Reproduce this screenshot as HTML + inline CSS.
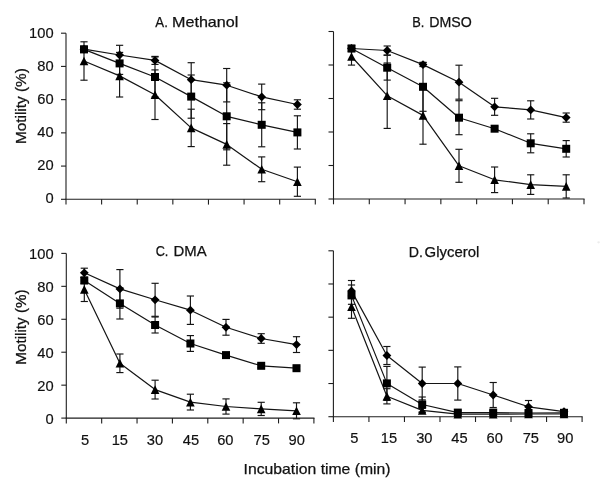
<!DOCTYPE html>
<html><head><meta charset="utf-8"><style>
html,body{margin:0;padding:0;background:#fff;}
body{width:600px;height:493px;overflow:hidden;}
svg{display:block;filter:blur(0.3px);font-family:"Liberation Sans", sans-serif;}
text.n{font-size:14.7px;fill:#111;stroke:#111;stroke-width:0.18px;}
text.t{font-size:14.5px;fill:#111;stroke:#111;stroke-width:0.25px;}
</style></head><body>
<svg width="600" height="493" viewBox="0 0 600 493">
<rect width="600" height="493" fill="#fff"/>
<g shape-rendering="auto">
<line x1="66" y1="33.2" x2="66" y2="204.6" stroke="#1e1e1e" stroke-width="1.1"/>
<line x1="65.45" y1="199.3" x2="315.85" y2="199.3" stroke="#1e1e1e" stroke-width="1.1"/>
<line x1="61" y1="33.2" x2="66" y2="33.2" stroke="#1e1e1e" stroke-width="1.1"/>
<line x1="61" y1="66.42" x2="66" y2="66.42" stroke="#1e1e1e" stroke-width="1.1"/>
<line x1="61" y1="99.64" x2="66" y2="99.64" stroke="#1e1e1e" stroke-width="1.1"/>
<line x1="61" y1="132.86" x2="66" y2="132.86" stroke="#1e1e1e" stroke-width="1.1"/>
<line x1="61" y1="166.08" x2="66" y2="166.08" stroke="#1e1e1e" stroke-width="1.1"/>
<line x1="61" y1="199.3" x2="66" y2="199.3" stroke="#1e1e1e" stroke-width="1.1"/>
<line x1="101.61" y1="199.3" x2="101.61" y2="204.6" stroke="#1e1e1e" stroke-width="1.1"/>
<line x1="137.23" y1="199.3" x2="137.23" y2="204.6" stroke="#1e1e1e" stroke-width="1.1"/>
<line x1="172.84" y1="199.3" x2="172.84" y2="204.6" stroke="#1e1e1e" stroke-width="1.1"/>
<line x1="208.46" y1="199.3" x2="208.46" y2="204.6" stroke="#1e1e1e" stroke-width="1.1"/>
<line x1="244.07" y1="199.3" x2="244.07" y2="204.6" stroke="#1e1e1e" stroke-width="1.1"/>
<line x1="279.69" y1="199.3" x2="279.69" y2="204.6" stroke="#1e1e1e" stroke-width="1.1"/>
<line x1="315.3" y1="199.3" x2="315.3" y2="204.6" stroke="#1e1e1e" stroke-width="1.1"/>
</g>
<text class="n" x="53.6" y="38.15" text-anchor="end">100</text>
<text class="n" x="53.6" y="71.05" text-anchor="end">80</text>
<text class="n" x="53.6" y="103.95" text-anchor="end">60</text>
<text class="n" x="53.6" y="136.85" text-anchor="end">40</text>
<text class="n" x="53.6" y="169.75" text-anchor="end">20</text>
<text class="n" x="53.6" y="202.65" text-anchor="end">0</text>
<polyline points="84,49.2 119.6,55 155,60.4 191.2,79.7 226.7,85.2 261.7,96.9 297.4,104.5" fill="none" stroke="#141414" stroke-width="1.2" stroke-linejoin="round"/>
<polyline points="84,49.4 119.6,63.4 155,77 191.2,96.6 226.7,116.3 261.7,124.8 297.4,132.4" fill="none" stroke="#141414" stroke-width="1.2" stroke-linejoin="round"/>
<polyline points="84,61 119.6,75.9 155,94.7 191.2,127.9 226.7,144.4 261.7,169.3 297.4,181.7" fill="none" stroke="#141414" stroke-width="1.2" stroke-linejoin="round"/>
<line x1="84" y1="46.2" x2="84" y2="52.2" stroke="#141414" stroke-width="1.15"/>
<line x1="80.4" y1="46.2" x2="87.6" y2="46.2" stroke="#141414" stroke-width="1.15"/>
<line x1="80.4" y1="52.2" x2="87.6" y2="52.2" stroke="#141414" stroke-width="1.15"/>
<line x1="119.6" y1="45.3" x2="119.6" y2="64.7" stroke="#141414" stroke-width="1.15"/>
<line x1="116" y1="45.3" x2="123.2" y2="45.3" stroke="#141414" stroke-width="1.15"/>
<line x1="116" y1="64.7" x2="123.2" y2="64.7" stroke="#141414" stroke-width="1.15"/>
<line x1="155" y1="56.4" x2="155" y2="64.4" stroke="#141414" stroke-width="1.15"/>
<line x1="151.4" y1="56.4" x2="158.6" y2="56.4" stroke="#141414" stroke-width="1.15"/>
<line x1="151.4" y1="64.4" x2="158.6" y2="64.4" stroke="#141414" stroke-width="1.15"/>
<line x1="191.2" y1="62.7" x2="191.2" y2="96.7" stroke="#141414" stroke-width="1.15"/>
<line x1="187.6" y1="62.7" x2="194.8" y2="62.7" stroke="#141414" stroke-width="1.15"/>
<line x1="187.6" y1="96.7" x2="194.8" y2="96.7" stroke="#141414" stroke-width="1.15"/>
<line x1="226.7" y1="68.5" x2="226.7" y2="101.9" stroke="#141414" stroke-width="1.15"/>
<line x1="223.1" y1="68.5" x2="230.3" y2="68.5" stroke="#141414" stroke-width="1.15"/>
<line x1="223.1" y1="101.9" x2="230.3" y2="101.9" stroke="#141414" stroke-width="1.15"/>
<line x1="261.7" y1="84.1" x2="261.7" y2="109.7" stroke="#141414" stroke-width="1.15"/>
<line x1="258.1" y1="84.1" x2="265.3" y2="84.1" stroke="#141414" stroke-width="1.15"/>
<line x1="258.1" y1="109.7" x2="265.3" y2="109.7" stroke="#141414" stroke-width="1.15"/>
<line x1="297.4" y1="99.8" x2="297.4" y2="109.2" stroke="#141414" stroke-width="1.15"/>
<line x1="293.8" y1="99.8" x2="301" y2="99.8" stroke="#141414" stroke-width="1.15"/>
<line x1="293.8" y1="109.2" x2="301" y2="109.2" stroke="#141414" stroke-width="1.15"/>
<line x1="84" y1="46.4" x2="84" y2="52.4" stroke="#141414" stroke-width="1.15"/>
<line x1="80.4" y1="46.4" x2="87.6" y2="46.4" stroke="#141414" stroke-width="1.15"/>
<line x1="80.4" y1="52.4" x2="87.6" y2="52.4" stroke="#141414" stroke-width="1.15"/>
<line x1="119.6" y1="52.4" x2="119.6" y2="74.4" stroke="#141414" stroke-width="1.15"/>
<line x1="116" y1="52.4" x2="123.2" y2="52.4" stroke="#141414" stroke-width="1.15"/>
<line x1="116" y1="74.4" x2="123.2" y2="74.4" stroke="#141414" stroke-width="1.15"/>
<line x1="155" y1="57" x2="155" y2="97" stroke="#141414" stroke-width="1.15"/>
<line x1="151.4" y1="57" x2="158.6" y2="57" stroke="#141414" stroke-width="1.15"/>
<line x1="151.4" y1="97" x2="158.6" y2="97" stroke="#141414" stroke-width="1.15"/>
<line x1="191.2" y1="75" x2="191.2" y2="118.2" stroke="#141414" stroke-width="1.15"/>
<line x1="187.6" y1="75" x2="194.8" y2="75" stroke="#141414" stroke-width="1.15"/>
<line x1="187.6" y1="118.2" x2="194.8" y2="118.2" stroke="#141414" stroke-width="1.15"/>
<line x1="226.7" y1="82.8" x2="226.7" y2="149.8" stroke="#141414" stroke-width="1.15"/>
<line x1="223.1" y1="82.8" x2="230.3" y2="82.8" stroke="#141414" stroke-width="1.15"/>
<line x1="223.1" y1="149.8" x2="230.3" y2="149.8" stroke="#141414" stroke-width="1.15"/>
<line x1="261.7" y1="102.8" x2="261.7" y2="146.8" stroke="#141414" stroke-width="1.15"/>
<line x1="258.1" y1="102.8" x2="265.3" y2="102.8" stroke="#141414" stroke-width="1.15"/>
<line x1="258.1" y1="146.8" x2="265.3" y2="146.8" stroke="#141414" stroke-width="1.15"/>
<line x1="297.4" y1="115.8" x2="297.4" y2="149" stroke="#141414" stroke-width="1.15"/>
<line x1="293.8" y1="115.8" x2="301" y2="115.8" stroke="#141414" stroke-width="1.15"/>
<line x1="293.8" y1="149" x2="301" y2="149" stroke="#141414" stroke-width="1.15"/>
<line x1="84" y1="41.8" x2="84" y2="80.2" stroke="#141414" stroke-width="1.15"/>
<line x1="80.4" y1="41.8" x2="87.6" y2="41.8" stroke="#141414" stroke-width="1.15"/>
<line x1="80.4" y1="80.2" x2="87.6" y2="80.2" stroke="#141414" stroke-width="1.15"/>
<line x1="119.6" y1="54.8" x2="119.6" y2="97" stroke="#141414" stroke-width="1.15"/>
<line x1="116" y1="54.8" x2="123.2" y2="54.8" stroke="#141414" stroke-width="1.15"/>
<line x1="116" y1="97" x2="123.2" y2="97" stroke="#141414" stroke-width="1.15"/>
<line x1="155" y1="69.9" x2="155" y2="119.5" stroke="#141414" stroke-width="1.15"/>
<line x1="151.4" y1="69.9" x2="158.6" y2="69.9" stroke="#141414" stroke-width="1.15"/>
<line x1="151.4" y1="119.5" x2="158.6" y2="119.5" stroke="#141414" stroke-width="1.15"/>
<line x1="191.2" y1="109.2" x2="191.2" y2="146.6" stroke="#141414" stroke-width="1.15"/>
<line x1="187.6" y1="109.2" x2="194.8" y2="109.2" stroke="#141414" stroke-width="1.15"/>
<line x1="187.6" y1="146.6" x2="194.8" y2="146.6" stroke="#141414" stroke-width="1.15"/>
<line x1="226.7" y1="123.6" x2="226.7" y2="165.2" stroke="#141414" stroke-width="1.15"/>
<line x1="223.1" y1="123.6" x2="230.3" y2="123.6" stroke="#141414" stroke-width="1.15"/>
<line x1="223.1" y1="165.2" x2="230.3" y2="165.2" stroke="#141414" stroke-width="1.15"/>
<line x1="261.7" y1="156.9" x2="261.7" y2="181.7" stroke="#141414" stroke-width="1.15"/>
<line x1="258.1" y1="156.9" x2="265.3" y2="156.9" stroke="#141414" stroke-width="1.15"/>
<line x1="258.1" y1="181.7" x2="265.3" y2="181.7" stroke="#141414" stroke-width="1.15"/>
<line x1="297.4" y1="167.1" x2="297.4" y2="196.3" stroke="#141414" stroke-width="1.15"/>
<line x1="293.8" y1="167.1" x2="301" y2="167.1" stroke="#141414" stroke-width="1.15"/>
<line x1="293.8" y1="196.3" x2="301" y2="196.3" stroke="#141414" stroke-width="1.15"/>
<path d="M84 44.8L88.4 49.2L84 53.6L79.6 49.2Z" fill="#000"/>
<path d="M119.6 50.6L124 55L119.6 59.4L115.2 55Z" fill="#000"/>
<path d="M155 56L159.4 60.4L155 64.8L150.6 60.4Z" fill="#000"/>
<path d="M191.2 75.3L195.6 79.7L191.2 84.1L186.8 79.7Z" fill="#000"/>
<path d="M226.7 80.8L231.1 85.2L226.7 89.6L222.3 85.2Z" fill="#000"/>
<path d="M261.7 92.5L266.1 96.9L261.7 101.3L257.3 96.9Z" fill="#000"/>
<path d="M297.4 100.1L301.8 104.5L297.4 108.9L293 104.5Z" fill="#000"/>
<rect x="80" y="45.4" width="8" height="8" fill="#000"/>
<rect x="115.6" y="59.4" width="8" height="8" fill="#000"/>
<rect x="151" y="73" width="8" height="8" fill="#000"/>
<rect x="187.2" y="92.6" width="8" height="8" fill="#000"/>
<rect x="222.7" y="112.3" width="8" height="8" fill="#000"/>
<rect x="257.7" y="120.8" width="8" height="8" fill="#000"/>
<rect x="293.4" y="128.4" width="8" height="8" fill="#000"/>
<path d="M84 56.7L88.3 65.3L79.7 65.3Z" fill="#000"/>
<path d="M119.6 71.6L123.9 80.2L115.3 80.2Z" fill="#000"/>
<path d="M155 90.4L159.3 99L150.7 99Z" fill="#000"/>
<path d="M191.2 123.6L195.5 132.2L186.9 132.2Z" fill="#000"/>
<path d="M226.7 140.1L231 148.7L222.4 148.7Z" fill="#000"/>
<path d="M261.7 165L266 173.6L257.4 173.6Z" fill="#000"/>
<path d="M297.4 177.4L301.7 186L293.1 186Z" fill="#000"/>
<g shape-rendering="auto">
<line x1="333.5" y1="31.5" x2="333.5" y2="204.3" stroke="#1e1e1e" stroke-width="1.1"/>
<line x1="332.95" y1="199" x2="584.55" y2="199" stroke="#1e1e1e" stroke-width="1.1"/>
<line x1="328.5" y1="31.5" x2="333.5" y2="31.5" stroke="#1e1e1e" stroke-width="1.1"/>
<line x1="328.5" y1="65" x2="333.5" y2="65" stroke="#1e1e1e" stroke-width="1.1"/>
<line x1="328.5" y1="98.5" x2="333.5" y2="98.5" stroke="#1e1e1e" stroke-width="1.1"/>
<line x1="328.5" y1="132" x2="333.5" y2="132" stroke="#1e1e1e" stroke-width="1.1"/>
<line x1="328.5" y1="165.5" x2="333.5" y2="165.5" stroke="#1e1e1e" stroke-width="1.1"/>
<line x1="328.5" y1="199" x2="333.5" y2="199" stroke="#1e1e1e" stroke-width="1.1"/>
<line x1="369.29" y1="199" x2="369.29" y2="204.3" stroke="#1e1e1e" stroke-width="1.1"/>
<line x1="405.07" y1="199" x2="405.07" y2="204.3" stroke="#1e1e1e" stroke-width="1.1"/>
<line x1="440.86" y1="199" x2="440.86" y2="204.3" stroke="#1e1e1e" stroke-width="1.1"/>
<line x1="476.64" y1="199" x2="476.64" y2="204.3" stroke="#1e1e1e" stroke-width="1.1"/>
<line x1="512.43" y1="199" x2="512.43" y2="204.3" stroke="#1e1e1e" stroke-width="1.1"/>
<line x1="548.21" y1="199" x2="548.21" y2="204.3" stroke="#1e1e1e" stroke-width="1.1"/>
<line x1="584" y1="199" x2="584" y2="204.3" stroke="#1e1e1e" stroke-width="1.1"/>
</g>
<polyline points="351.5,48.5 387.2,50.5 423,64.6 459,82.2 494.6,106.8 530.7,109.9 566.2,117.6" fill="none" stroke="#141414" stroke-width="1.2" stroke-linejoin="round"/>
<polyline points="351.5,48.5 387.2,67.7 423,86.8 459,117.7 494.6,128.7 530.7,143.3 566.2,148.8" fill="none" stroke="#141414" stroke-width="1.2" stroke-linejoin="round"/>
<polyline points="351.5,56.5 387.2,95.7 423,115.4 459,165.8 494.6,179.8 530.7,184.6 566.2,186.4" fill="none" stroke="#141414" stroke-width="1.2" stroke-linejoin="round"/>
<line x1="351.5" y1="45.5" x2="351.5" y2="51.5" stroke="#141414" stroke-width="1.15"/>
<line x1="347.9" y1="45.5" x2="355.1" y2="45.5" stroke="#141414" stroke-width="1.15"/>
<line x1="347.9" y1="51.5" x2="355.1" y2="51.5" stroke="#141414" stroke-width="1.15"/>
<line x1="387.2" y1="46" x2="387.2" y2="55" stroke="#141414" stroke-width="1.15"/>
<line x1="383.6" y1="46" x2="390.8" y2="46" stroke="#141414" stroke-width="1.15"/>
<line x1="383.6" y1="55" x2="390.8" y2="55" stroke="#141414" stroke-width="1.15"/>
<line x1="423" y1="62.6" x2="423" y2="66.6" stroke="#141414" stroke-width="1.15"/>
<line x1="419.4" y1="62.6" x2="426.6" y2="62.6" stroke="#141414" stroke-width="1.15"/>
<line x1="419.4" y1="66.6" x2="426.6" y2="66.6" stroke="#141414" stroke-width="1.15"/>
<line x1="459" y1="65.2" x2="459" y2="99.2" stroke="#141414" stroke-width="1.15"/>
<line x1="455.4" y1="65.2" x2="462.6" y2="65.2" stroke="#141414" stroke-width="1.15"/>
<line x1="455.4" y1="99.2" x2="462.6" y2="99.2" stroke="#141414" stroke-width="1.15"/>
<line x1="494.6" y1="98.3" x2="494.6" y2="115.3" stroke="#141414" stroke-width="1.15"/>
<line x1="491" y1="98.3" x2="498.2" y2="98.3" stroke="#141414" stroke-width="1.15"/>
<line x1="491" y1="115.3" x2="498.2" y2="115.3" stroke="#141414" stroke-width="1.15"/>
<line x1="530.7" y1="100.8" x2="530.7" y2="119" stroke="#141414" stroke-width="1.15"/>
<line x1="527.1" y1="100.8" x2="534.3" y2="100.8" stroke="#141414" stroke-width="1.15"/>
<line x1="527.1" y1="119" x2="534.3" y2="119" stroke="#141414" stroke-width="1.15"/>
<line x1="566.2" y1="113" x2="566.2" y2="122.2" stroke="#141414" stroke-width="1.15"/>
<line x1="562.6" y1="113" x2="569.8" y2="113" stroke="#141414" stroke-width="1.15"/>
<line x1="562.6" y1="122.2" x2="569.8" y2="122.2" stroke="#141414" stroke-width="1.15"/>
<line x1="351.5" y1="45.5" x2="351.5" y2="51.5" stroke="#141414" stroke-width="1.15"/>
<line x1="347.9" y1="45.5" x2="355.1" y2="45.5" stroke="#141414" stroke-width="1.15"/>
<line x1="347.9" y1="51.5" x2="355.1" y2="51.5" stroke="#141414" stroke-width="1.15"/>
<line x1="387.2" y1="55.3" x2="387.2" y2="80.1" stroke="#141414" stroke-width="1.15"/>
<line x1="383.6" y1="55.3" x2="390.8" y2="55.3" stroke="#141414" stroke-width="1.15"/>
<line x1="383.6" y1="80.1" x2="390.8" y2="80.1" stroke="#141414" stroke-width="1.15"/>
<line x1="423" y1="62.3" x2="423" y2="111.3" stroke="#141414" stroke-width="1.15"/>
<line x1="419.4" y1="62.3" x2="426.6" y2="62.3" stroke="#141414" stroke-width="1.15"/>
<line x1="419.4" y1="111.3" x2="426.6" y2="111.3" stroke="#141414" stroke-width="1.15"/>
<line x1="459" y1="100.7" x2="459" y2="134.7" stroke="#141414" stroke-width="1.15"/>
<line x1="455.4" y1="100.7" x2="462.6" y2="100.7" stroke="#141414" stroke-width="1.15"/>
<line x1="455.4" y1="134.7" x2="462.6" y2="134.7" stroke="#141414" stroke-width="1.15"/>
<line x1="494.6" y1="126.7" x2="494.6" y2="130.7" stroke="#141414" stroke-width="1.15"/>
<line x1="491" y1="126.7" x2="498.2" y2="126.7" stroke="#141414" stroke-width="1.15"/>
<line x1="491" y1="130.7" x2="498.2" y2="130.7" stroke="#141414" stroke-width="1.15"/>
<line x1="530.7" y1="133.8" x2="530.7" y2="152.8" stroke="#141414" stroke-width="1.15"/>
<line x1="527.1" y1="133.8" x2="534.3" y2="133.8" stroke="#141414" stroke-width="1.15"/>
<line x1="527.1" y1="152.8" x2="534.3" y2="152.8" stroke="#141414" stroke-width="1.15"/>
<line x1="566.2" y1="140.6" x2="566.2" y2="157" stroke="#141414" stroke-width="1.15"/>
<line x1="562.6" y1="140.6" x2="569.8" y2="140.6" stroke="#141414" stroke-width="1.15"/>
<line x1="562.6" y1="157" x2="569.8" y2="157" stroke="#141414" stroke-width="1.15"/>
<line x1="351.5" y1="47.9" x2="351.5" y2="65.1" stroke="#141414" stroke-width="1.15"/>
<line x1="347.9" y1="47.9" x2="355.1" y2="47.9" stroke="#141414" stroke-width="1.15"/>
<line x1="347.9" y1="65.1" x2="355.1" y2="65.1" stroke="#141414" stroke-width="1.15"/>
<line x1="387.2" y1="63" x2="387.2" y2="128.4" stroke="#141414" stroke-width="1.15"/>
<line x1="383.6" y1="63" x2="390.8" y2="63" stroke="#141414" stroke-width="1.15"/>
<line x1="383.6" y1="128.4" x2="390.8" y2="128.4" stroke="#141414" stroke-width="1.15"/>
<line x1="423" y1="86.6" x2="423" y2="144.2" stroke="#141414" stroke-width="1.15"/>
<line x1="419.4" y1="86.6" x2="426.6" y2="86.6" stroke="#141414" stroke-width="1.15"/>
<line x1="419.4" y1="144.2" x2="426.6" y2="144.2" stroke="#141414" stroke-width="1.15"/>
<line x1="459" y1="149.3" x2="459" y2="182.3" stroke="#141414" stroke-width="1.15"/>
<line x1="455.4" y1="149.3" x2="462.6" y2="149.3" stroke="#141414" stroke-width="1.15"/>
<line x1="455.4" y1="182.3" x2="462.6" y2="182.3" stroke="#141414" stroke-width="1.15"/>
<line x1="494.6" y1="167" x2="494.6" y2="192.6" stroke="#141414" stroke-width="1.15"/>
<line x1="491" y1="167" x2="498.2" y2="167" stroke="#141414" stroke-width="1.15"/>
<line x1="491" y1="192.6" x2="498.2" y2="192.6" stroke="#141414" stroke-width="1.15"/>
<line x1="530.7" y1="174.8" x2="530.7" y2="194.4" stroke="#141414" stroke-width="1.15"/>
<line x1="527.1" y1="174.8" x2="534.3" y2="174.8" stroke="#141414" stroke-width="1.15"/>
<line x1="527.1" y1="194.4" x2="534.3" y2="194.4" stroke="#141414" stroke-width="1.15"/>
<line x1="566.2" y1="174.8" x2="566.2" y2="198" stroke="#141414" stroke-width="1.15"/>
<line x1="562.6" y1="174.8" x2="569.8" y2="174.8" stroke="#141414" stroke-width="1.15"/>
<line x1="562.6" y1="198" x2="569.8" y2="198" stroke="#141414" stroke-width="1.15"/>
<path d="M351.5 44.1L355.9 48.5L351.5 52.9L347.1 48.5Z" fill="#000"/>
<path d="M387.2 46.1L391.6 50.5L387.2 54.9L382.8 50.5Z" fill="#000"/>
<path d="M423 60.2L427.4 64.6L423 69L418.6 64.6Z" fill="#000"/>
<path d="M459 77.8L463.4 82.2L459 86.6L454.6 82.2Z" fill="#000"/>
<path d="M494.6 102.4L499 106.8L494.6 111.2L490.2 106.8Z" fill="#000"/>
<path d="M530.7 105.5L535.1 109.9L530.7 114.3L526.3 109.9Z" fill="#000"/>
<path d="M566.2 113.2L570.6 117.6L566.2 122L561.8 117.6Z" fill="#000"/>
<rect x="347.5" y="44.5" width="8" height="8" fill="#000"/>
<rect x="383.2" y="63.7" width="8" height="8" fill="#000"/>
<rect x="419" y="82.8" width="8" height="8" fill="#000"/>
<rect x="455" y="113.7" width="8" height="8" fill="#000"/>
<rect x="490.6" y="124.7" width="8" height="8" fill="#000"/>
<rect x="526.7" y="139.3" width="8" height="8" fill="#000"/>
<rect x="562.2" y="144.8" width="8" height="8" fill="#000"/>
<path d="M351.5 52.2L355.8 60.8L347.2 60.8Z" fill="#000"/>
<path d="M387.2 91.4L391.5 100L382.9 100Z" fill="#000"/>
<path d="M423 111.1L427.3 119.7L418.7 119.7Z" fill="#000"/>
<path d="M459 161.5L463.3 170.1L454.7 170.1Z" fill="#000"/>
<path d="M494.6 175.5L498.9 184.1L490.3 184.1Z" fill="#000"/>
<path d="M530.7 180.3L535 188.9L526.4 188.9Z" fill="#000"/>
<path d="M566.2 182.1L570.5 190.7L561.9 190.7Z" fill="#000"/>
<g shape-rendering="auto">
<line x1="66.3" y1="253.4" x2="66.3" y2="423.4" stroke="#1e1e1e" stroke-width="1.1"/>
<line x1="65.75" y1="418.1" x2="314.45" y2="418.1" stroke="#1e1e1e" stroke-width="1.1"/>
<line x1="61.3" y1="253.4" x2="66.3" y2="253.4" stroke="#1e1e1e" stroke-width="1.1"/>
<line x1="61.3" y1="286.34" x2="66.3" y2="286.34" stroke="#1e1e1e" stroke-width="1.1"/>
<line x1="61.3" y1="319.28" x2="66.3" y2="319.28" stroke="#1e1e1e" stroke-width="1.1"/>
<line x1="61.3" y1="352.22" x2="66.3" y2="352.22" stroke="#1e1e1e" stroke-width="1.1"/>
<line x1="61.3" y1="385.16" x2="66.3" y2="385.16" stroke="#1e1e1e" stroke-width="1.1"/>
<line x1="61.3" y1="418.1" x2="66.3" y2="418.1" stroke="#1e1e1e" stroke-width="1.1"/>
<line x1="101.67" y1="418.1" x2="101.67" y2="423.4" stroke="#1e1e1e" stroke-width="1.1"/>
<line x1="137.04" y1="418.1" x2="137.04" y2="423.4" stroke="#1e1e1e" stroke-width="1.1"/>
<line x1="172.41" y1="418.1" x2="172.41" y2="423.4" stroke="#1e1e1e" stroke-width="1.1"/>
<line x1="207.79" y1="418.1" x2="207.79" y2="423.4" stroke="#1e1e1e" stroke-width="1.1"/>
<line x1="243.16" y1="418.1" x2="243.16" y2="423.4" stroke="#1e1e1e" stroke-width="1.1"/>
<line x1="278.53" y1="418.1" x2="278.53" y2="423.4" stroke="#1e1e1e" stroke-width="1.1"/>
<line x1="313.9" y1="418.1" x2="313.9" y2="423.4" stroke="#1e1e1e" stroke-width="1.1"/>
</g>
<text class="n" x="53.6" y="258.85" text-anchor="end">100</text>
<text class="n" x="53.6" y="291.81" text-anchor="end">80</text>
<text class="n" x="53.6" y="324.77" text-anchor="end">60</text>
<text class="n" x="53.6" y="357.73" text-anchor="end">40</text>
<text class="n" x="53.6" y="390.69" text-anchor="end">20</text>
<text class="n" x="53.6" y="423.65" text-anchor="end">0</text>
<text class="n" x="85.1" y="444.6" text-anchor="middle">5</text>
<text class="n" x="119.8" y="444.6" text-anchor="middle">15</text>
<text class="n" x="155" y="444.6" text-anchor="middle">30</text>
<text class="n" x="191" y="444.6" text-anchor="middle">45</text>
<text class="n" x="225.3" y="444.6" text-anchor="middle">60</text>
<text class="n" x="261.7" y="444.6" text-anchor="middle">75</text>
<text class="n" x="296.7" y="444.6" text-anchor="middle">90</text>
<polyline points="84.3,272.8 119.9,288.9 155.1,299.8 190.4,310.2 226,327.3 261.2,338.5 296.5,344.6" fill="none" stroke="#141414" stroke-width="1.2" stroke-linejoin="round"/>
<polyline points="84.3,280.5 119.9,303.4 155.1,325 190.4,343.5 226,355.1 261.2,365.8 296.5,368.2" fill="none" stroke="#141414" stroke-width="1.2" stroke-linejoin="round"/>
<polyline points="84.3,289.4 119.9,363.3 155.1,389.6 190.4,402.1 226,406.5 261.2,408.9 296.5,410.8" fill="none" stroke="#141414" stroke-width="1.2" stroke-linejoin="round"/>
<line x1="84.3" y1="268.2" x2="84.3" y2="277.4" stroke="#141414" stroke-width="1.15"/>
<line x1="80.7" y1="268.2" x2="87.9" y2="268.2" stroke="#141414" stroke-width="1.15"/>
<line x1="80.7" y1="277.4" x2="87.9" y2="277.4" stroke="#141414" stroke-width="1.15"/>
<line x1="119.9" y1="269.6" x2="119.9" y2="308.2" stroke="#141414" stroke-width="1.15"/>
<line x1="116.3" y1="269.6" x2="123.5" y2="269.6" stroke="#141414" stroke-width="1.15"/>
<line x1="116.3" y1="308.2" x2="123.5" y2="308.2" stroke="#141414" stroke-width="1.15"/>
<line x1="155.1" y1="283.3" x2="155.1" y2="316.3" stroke="#141414" stroke-width="1.15"/>
<line x1="151.5" y1="283.3" x2="158.7" y2="283.3" stroke="#141414" stroke-width="1.15"/>
<line x1="151.5" y1="316.3" x2="158.7" y2="316.3" stroke="#141414" stroke-width="1.15"/>
<line x1="190.4" y1="296" x2="190.4" y2="324.4" stroke="#141414" stroke-width="1.15"/>
<line x1="186.8" y1="296" x2="194" y2="296" stroke="#141414" stroke-width="1.15"/>
<line x1="186.8" y1="324.4" x2="194" y2="324.4" stroke="#141414" stroke-width="1.15"/>
<line x1="226" y1="319.4" x2="226" y2="335.2" stroke="#141414" stroke-width="1.15"/>
<line x1="222.4" y1="319.4" x2="229.6" y2="319.4" stroke="#141414" stroke-width="1.15"/>
<line x1="222.4" y1="335.2" x2="229.6" y2="335.2" stroke="#141414" stroke-width="1.15"/>
<line x1="261.2" y1="333.7" x2="261.2" y2="343.3" stroke="#141414" stroke-width="1.15"/>
<line x1="257.6" y1="333.7" x2="264.8" y2="333.7" stroke="#141414" stroke-width="1.15"/>
<line x1="257.6" y1="343.3" x2="264.8" y2="343.3" stroke="#141414" stroke-width="1.15"/>
<line x1="296.5" y1="336.7" x2="296.5" y2="352.5" stroke="#141414" stroke-width="1.15"/>
<line x1="292.9" y1="336.7" x2="300.1" y2="336.7" stroke="#141414" stroke-width="1.15"/>
<line x1="292.9" y1="352.5" x2="300.1" y2="352.5" stroke="#141414" stroke-width="1.15"/>
<line x1="84.3" y1="277.5" x2="84.3" y2="283.5" stroke="#141414" stroke-width="1.15"/>
<line x1="80.7" y1="277.5" x2="87.9" y2="277.5" stroke="#141414" stroke-width="1.15"/>
<line x1="80.7" y1="283.5" x2="87.9" y2="283.5" stroke="#141414" stroke-width="1.15"/>
<line x1="119.9" y1="287.8" x2="119.9" y2="319" stroke="#141414" stroke-width="1.15"/>
<line x1="116.3" y1="287.8" x2="123.5" y2="287.8" stroke="#141414" stroke-width="1.15"/>
<line x1="116.3" y1="319" x2="123.5" y2="319" stroke="#141414" stroke-width="1.15"/>
<line x1="155.1" y1="317" x2="155.1" y2="333" stroke="#141414" stroke-width="1.15"/>
<line x1="151.5" y1="317" x2="158.7" y2="317" stroke="#141414" stroke-width="1.15"/>
<line x1="151.5" y1="333" x2="158.7" y2="333" stroke="#141414" stroke-width="1.15"/>
<line x1="190.4" y1="335.6" x2="190.4" y2="351.4" stroke="#141414" stroke-width="1.15"/>
<line x1="186.8" y1="335.6" x2="194" y2="335.6" stroke="#141414" stroke-width="1.15"/>
<line x1="186.8" y1="351.4" x2="194" y2="351.4" stroke="#141414" stroke-width="1.15"/>
<line x1="226" y1="353.1" x2="226" y2="357.1" stroke="#141414" stroke-width="1.15"/>
<line x1="222.4" y1="353.1" x2="229.6" y2="353.1" stroke="#141414" stroke-width="1.15"/>
<line x1="222.4" y1="357.1" x2="229.6" y2="357.1" stroke="#141414" stroke-width="1.15"/>
<line x1="261.2" y1="363.8" x2="261.2" y2="367.8" stroke="#141414" stroke-width="1.15"/>
<line x1="257.6" y1="363.8" x2="264.8" y2="363.8" stroke="#141414" stroke-width="1.15"/>
<line x1="257.6" y1="367.8" x2="264.8" y2="367.8" stroke="#141414" stroke-width="1.15"/>
<line x1="296.5" y1="366.2" x2="296.5" y2="370.2" stroke="#141414" stroke-width="1.15"/>
<line x1="292.9" y1="366.2" x2="300.1" y2="366.2" stroke="#141414" stroke-width="1.15"/>
<line x1="292.9" y1="370.2" x2="300.1" y2="370.2" stroke="#141414" stroke-width="1.15"/>
<line x1="84.3" y1="277.3" x2="84.3" y2="301.5" stroke="#141414" stroke-width="1.15"/>
<line x1="80.7" y1="277.3" x2="87.9" y2="277.3" stroke="#141414" stroke-width="1.15"/>
<line x1="80.7" y1="301.5" x2="87.9" y2="301.5" stroke="#141414" stroke-width="1.15"/>
<line x1="119.9" y1="354" x2="119.9" y2="372.6" stroke="#141414" stroke-width="1.15"/>
<line x1="116.3" y1="354" x2="123.5" y2="354" stroke="#141414" stroke-width="1.15"/>
<line x1="116.3" y1="372.6" x2="123.5" y2="372.6" stroke="#141414" stroke-width="1.15"/>
<line x1="155.1" y1="380.2" x2="155.1" y2="399" stroke="#141414" stroke-width="1.15"/>
<line x1="151.5" y1="380.2" x2="158.7" y2="380.2" stroke="#141414" stroke-width="1.15"/>
<line x1="151.5" y1="399" x2="158.7" y2="399" stroke="#141414" stroke-width="1.15"/>
<line x1="190.4" y1="394.2" x2="190.4" y2="410" stroke="#141414" stroke-width="1.15"/>
<line x1="186.8" y1="394.2" x2="194" y2="394.2" stroke="#141414" stroke-width="1.15"/>
<line x1="186.8" y1="410" x2="194" y2="410" stroke="#141414" stroke-width="1.15"/>
<line x1="226" y1="398.9" x2="226" y2="414.1" stroke="#141414" stroke-width="1.15"/>
<line x1="222.4" y1="398.9" x2="229.6" y2="398.9" stroke="#141414" stroke-width="1.15"/>
<line x1="222.4" y1="414.1" x2="229.6" y2="414.1" stroke="#141414" stroke-width="1.15"/>
<line x1="261.2" y1="402.3" x2="261.2" y2="415.5" stroke="#141414" stroke-width="1.15"/>
<line x1="257.6" y1="402.3" x2="264.8" y2="402.3" stroke="#141414" stroke-width="1.15"/>
<line x1="257.6" y1="415.5" x2="264.8" y2="415.5" stroke="#141414" stroke-width="1.15"/>
<line x1="296.5" y1="402.8" x2="296.5" y2="418.8" stroke="#141414" stroke-width="1.15"/>
<line x1="292.9" y1="402.8" x2="300.1" y2="402.8" stroke="#141414" stroke-width="1.15"/>
<line x1="292.9" y1="418.8" x2="300.1" y2="418.8" stroke="#141414" stroke-width="1.15"/>
<path d="M84.3 268.4L88.7 272.8L84.3 277.2L79.9 272.8Z" fill="#000"/>
<path d="M119.9 284.5L124.3 288.9L119.9 293.3L115.5 288.9Z" fill="#000"/>
<path d="M155.1 295.4L159.5 299.8L155.1 304.2L150.7 299.8Z" fill="#000"/>
<path d="M190.4 305.8L194.8 310.2L190.4 314.6L186 310.2Z" fill="#000"/>
<path d="M226 322.9L230.4 327.3L226 331.7L221.6 327.3Z" fill="#000"/>
<path d="M261.2 334.1L265.6 338.5L261.2 342.9L256.8 338.5Z" fill="#000"/>
<path d="M296.5 340.2L300.9 344.6L296.5 349L292.1 344.6Z" fill="#000"/>
<rect x="80.3" y="276.5" width="8" height="8" fill="#000"/>
<rect x="115.9" y="299.4" width="8" height="8" fill="#000"/>
<rect x="151.1" y="321" width="8" height="8" fill="#000"/>
<rect x="186.4" y="339.5" width="8" height="8" fill="#000"/>
<rect x="222" y="351.1" width="8" height="8" fill="#000"/>
<rect x="257.2" y="361.8" width="8" height="8" fill="#000"/>
<rect x="292.5" y="364.2" width="8" height="8" fill="#000"/>
<path d="M84.3 285.1L88.6 293.7L80 293.7Z" fill="#000"/>
<path d="M119.9 359L124.2 367.6L115.6 367.6Z" fill="#000"/>
<path d="M155.1 385.3L159.4 393.9L150.8 393.9Z" fill="#000"/>
<path d="M190.4 397.8L194.7 406.4L186.1 406.4Z" fill="#000"/>
<path d="M226 402.2L230.3 410.8L221.7 410.8Z" fill="#000"/>
<path d="M261.2 404.6L265.5 413.2L256.9 413.2Z" fill="#000"/>
<path d="M296.5 406.5L300.8 415.1L292.2 415.1Z" fill="#000"/>
<g shape-rendering="auto">
<line x1="333.4" y1="250.8" x2="333.4" y2="422" stroke="#1e1e1e" stroke-width="1.1"/>
<line x1="332.85" y1="416.7" x2="582.65" y2="416.7" stroke="#1e1e1e" stroke-width="1.1"/>
<line x1="328.4" y1="250.8" x2="333.4" y2="250.8" stroke="#1e1e1e" stroke-width="1.1"/>
<line x1="328.4" y1="283.98" x2="333.4" y2="283.98" stroke="#1e1e1e" stroke-width="1.1"/>
<line x1="328.4" y1="317.16" x2="333.4" y2="317.16" stroke="#1e1e1e" stroke-width="1.1"/>
<line x1="328.4" y1="350.34" x2="333.4" y2="350.34" stroke="#1e1e1e" stroke-width="1.1"/>
<line x1="328.4" y1="383.52" x2="333.4" y2="383.52" stroke="#1e1e1e" stroke-width="1.1"/>
<line x1="328.4" y1="416.7" x2="333.4" y2="416.7" stroke="#1e1e1e" stroke-width="1.1"/>
<line x1="368.93" y1="416.7" x2="368.93" y2="422" stroke="#1e1e1e" stroke-width="1.1"/>
<line x1="404.46" y1="416.7" x2="404.46" y2="422" stroke="#1e1e1e" stroke-width="1.1"/>
<line x1="439.99" y1="416.7" x2="439.99" y2="422" stroke="#1e1e1e" stroke-width="1.1"/>
<line x1="475.51" y1="416.7" x2="475.51" y2="422" stroke="#1e1e1e" stroke-width="1.1"/>
<line x1="511.04" y1="416.7" x2="511.04" y2="422" stroke="#1e1e1e" stroke-width="1.1"/>
<line x1="546.57" y1="416.7" x2="546.57" y2="422" stroke="#1e1e1e" stroke-width="1.1"/>
<line x1="582.1" y1="416.7" x2="582.1" y2="422" stroke="#1e1e1e" stroke-width="1.1"/>
</g>
<text class="n" x="354.4" y="443" text-anchor="middle">5</text>
<text class="n" x="389" y="443" text-anchor="middle">15</text>
<text class="n" x="424.3" y="443" text-anchor="middle">30</text>
<text class="n" x="459.5" y="443" text-anchor="middle">45</text>
<text class="n" x="494.7" y="443" text-anchor="middle">60</text>
<text class="n" x="530.8" y="443" text-anchor="middle">75</text>
<text class="n" x="565.2" y="443" text-anchor="middle">90</text>
<polyline points="351.5,290.9 386.9,355.5 422.2,383.5 457.8,383.5 493.2,395 528.5,406.8 564,411.6" fill="none" stroke="#141414" stroke-width="1.2" stroke-linejoin="round"/>
<polyline points="351.5,295.4 386.9,383.4 422.2,404.5 457.8,412.6 493.2,412.6 528.5,413 564,412.8" fill="none" stroke="#141414" stroke-width="1.2" stroke-linejoin="round"/>
<polyline points="351.5,306.8 386.9,396.3 422.2,410.4 457.8,414.2 493.2,414.2 528.5,414 564,414" fill="none" stroke="#141414" stroke-width="1.2" stroke-linejoin="round"/>
<line x1="351.5" y1="285" x2="351.5" y2="296.8" stroke="#141414" stroke-width="1.15"/>
<line x1="347.9" y1="285" x2="355.1" y2="285" stroke="#141414" stroke-width="1.15"/>
<line x1="347.9" y1="296.8" x2="355.1" y2="296.8" stroke="#141414" stroke-width="1.15"/>
<line x1="386.9" y1="346.5" x2="386.9" y2="364.5" stroke="#141414" stroke-width="1.15"/>
<line x1="383.3" y1="346.5" x2="390.5" y2="346.5" stroke="#141414" stroke-width="1.15"/>
<line x1="383.3" y1="364.5" x2="390.5" y2="364.5" stroke="#141414" stroke-width="1.15"/>
<line x1="422.2" y1="367.1" x2="422.2" y2="399.9" stroke="#141414" stroke-width="1.15"/>
<line x1="418.6" y1="367.1" x2="425.8" y2="367.1" stroke="#141414" stroke-width="1.15"/>
<line x1="418.6" y1="399.9" x2="425.8" y2="399.9" stroke="#141414" stroke-width="1.15"/>
<line x1="457.8" y1="366.9" x2="457.8" y2="400.1" stroke="#141414" stroke-width="1.15"/>
<line x1="454.2" y1="366.9" x2="461.4" y2="366.9" stroke="#141414" stroke-width="1.15"/>
<line x1="454.2" y1="400.1" x2="461.4" y2="400.1" stroke="#141414" stroke-width="1.15"/>
<line x1="493.2" y1="382.5" x2="493.2" y2="407.5" stroke="#141414" stroke-width="1.15"/>
<line x1="489.6" y1="382.5" x2="496.8" y2="382.5" stroke="#141414" stroke-width="1.15"/>
<line x1="489.6" y1="407.5" x2="496.8" y2="407.5" stroke="#141414" stroke-width="1.15"/>
<line x1="528.5" y1="400.5" x2="528.5" y2="413.1" stroke="#141414" stroke-width="1.15"/>
<line x1="524.9" y1="400.5" x2="532.1" y2="400.5" stroke="#141414" stroke-width="1.15"/>
<line x1="524.9" y1="413.1" x2="532.1" y2="413.1" stroke="#141414" stroke-width="1.15"/>
<line x1="564" y1="409.6" x2="564" y2="413.6" stroke="#141414" stroke-width="1.15"/>
<line x1="560.4" y1="409.6" x2="567.6" y2="409.6" stroke="#141414" stroke-width="1.15"/>
<line x1="560.4" y1="413.6" x2="567.6" y2="413.6" stroke="#141414" stroke-width="1.15"/>
<line x1="351.5" y1="280.5" x2="351.5" y2="304.3" stroke="#141414" stroke-width="1.15"/>
<line x1="347.9" y1="280.5" x2="355.1" y2="280.5" stroke="#141414" stroke-width="1.15"/>
<line x1="347.9" y1="304.3" x2="355.1" y2="304.3" stroke="#141414" stroke-width="1.15"/>
<line x1="386.9" y1="366.4" x2="386.9" y2="400.4" stroke="#141414" stroke-width="1.15"/>
<line x1="383.3" y1="366.4" x2="390.5" y2="366.4" stroke="#141414" stroke-width="1.15"/>
<line x1="383.3" y1="400.4" x2="390.5" y2="400.4" stroke="#141414" stroke-width="1.15"/>
<line x1="422.2" y1="397" x2="422.2" y2="412" stroke="#141414" stroke-width="1.15"/>
<line x1="418.6" y1="397" x2="425.8" y2="397" stroke="#141414" stroke-width="1.15"/>
<line x1="418.6" y1="412" x2="425.8" y2="412" stroke="#141414" stroke-width="1.15"/>
<line x1="457.8" y1="410.6" x2="457.8" y2="414.6" stroke="#141414" stroke-width="1.15"/>
<line x1="454.2" y1="410.6" x2="461.4" y2="410.6" stroke="#141414" stroke-width="1.15"/>
<line x1="454.2" y1="414.6" x2="461.4" y2="414.6" stroke="#141414" stroke-width="1.15"/>
<line x1="493.2" y1="410.6" x2="493.2" y2="414.6" stroke="#141414" stroke-width="1.15"/>
<line x1="489.6" y1="410.6" x2="496.8" y2="410.6" stroke="#141414" stroke-width="1.15"/>
<line x1="489.6" y1="414.6" x2="496.8" y2="414.6" stroke="#141414" stroke-width="1.15"/>
<line x1="528.5" y1="411" x2="528.5" y2="415" stroke="#141414" stroke-width="1.15"/>
<line x1="524.9" y1="411" x2="532.1" y2="411" stroke="#141414" stroke-width="1.15"/>
<line x1="524.9" y1="415" x2="532.1" y2="415" stroke="#141414" stroke-width="1.15"/>
<line x1="564" y1="410.8" x2="564" y2="414.8" stroke="#141414" stroke-width="1.15"/>
<line x1="560.4" y1="410.8" x2="567.6" y2="410.8" stroke="#141414" stroke-width="1.15"/>
<line x1="560.4" y1="414.8" x2="567.6" y2="414.8" stroke="#141414" stroke-width="1.15"/>
<line x1="351.5" y1="295.3" x2="351.5" y2="318.3" stroke="#141414" stroke-width="1.15"/>
<line x1="347.9" y1="295.3" x2="355.1" y2="295.3" stroke="#141414" stroke-width="1.15"/>
<line x1="347.9" y1="318.3" x2="355.1" y2="318.3" stroke="#141414" stroke-width="1.15"/>
<line x1="386.9" y1="388.7" x2="386.9" y2="403.9" stroke="#141414" stroke-width="1.15"/>
<line x1="383.3" y1="388.7" x2="390.5" y2="388.7" stroke="#141414" stroke-width="1.15"/>
<line x1="383.3" y1="403.9" x2="390.5" y2="403.9" stroke="#141414" stroke-width="1.15"/>
<line x1="422.2" y1="408.4" x2="422.2" y2="412.4" stroke="#141414" stroke-width="1.15"/>
<line x1="418.6" y1="408.4" x2="425.8" y2="408.4" stroke="#141414" stroke-width="1.15"/>
<line x1="418.6" y1="412.4" x2="425.8" y2="412.4" stroke="#141414" stroke-width="1.15"/>
<line x1="457.8" y1="412.2" x2="457.8" y2="416.2" stroke="#141414" stroke-width="1.15"/>
<line x1="454.2" y1="412.2" x2="461.4" y2="412.2" stroke="#141414" stroke-width="1.15"/>
<line x1="454.2" y1="416.2" x2="461.4" y2="416.2" stroke="#141414" stroke-width="1.15"/>
<line x1="493.2" y1="412.2" x2="493.2" y2="416.2" stroke="#141414" stroke-width="1.15"/>
<line x1="489.6" y1="412.2" x2="496.8" y2="412.2" stroke="#141414" stroke-width="1.15"/>
<line x1="489.6" y1="416.2" x2="496.8" y2="416.2" stroke="#141414" stroke-width="1.15"/>
<line x1="528.5" y1="412" x2="528.5" y2="416" stroke="#141414" stroke-width="1.15"/>
<line x1="524.9" y1="412" x2="532.1" y2="412" stroke="#141414" stroke-width="1.15"/>
<line x1="524.9" y1="416" x2="532.1" y2="416" stroke="#141414" stroke-width="1.15"/>
<line x1="564" y1="412" x2="564" y2="416" stroke="#141414" stroke-width="1.15"/>
<line x1="560.4" y1="412" x2="567.6" y2="412" stroke="#141414" stroke-width="1.15"/>
<line x1="560.4" y1="416" x2="567.6" y2="416" stroke="#141414" stroke-width="1.15"/>
<path d="M351.5 286.5L355.9 290.9L351.5 295.3L347.1 290.9Z" fill="#000"/>
<path d="M386.9 351.1L391.3 355.5L386.9 359.9L382.5 355.5Z" fill="#000"/>
<path d="M422.2 379.1L426.6 383.5L422.2 387.9L417.8 383.5Z" fill="#000"/>
<path d="M457.8 379.1L462.2 383.5L457.8 387.9L453.4 383.5Z" fill="#000"/>
<path d="M493.2 390.6L497.6 395L493.2 399.4L488.8 395Z" fill="#000"/>
<path d="M528.5 402.4L532.9 406.8L528.5 411.2L524.1 406.8Z" fill="#000"/>
<path d="M564 407.2L568.4 411.6L564 416L559.6 411.6Z" fill="#000"/>
<rect x="347.5" y="291.4" width="8" height="8" fill="#000"/>
<rect x="382.9" y="379.4" width="8" height="8" fill="#000"/>
<rect x="418.2" y="400.5" width="8" height="8" fill="#000"/>
<rect x="453.8" y="408.6" width="8" height="8" fill="#000"/>
<rect x="489.2" y="408.6" width="8" height="8" fill="#000"/>
<rect x="524.5" y="409" width="8" height="8" fill="#000"/>
<rect x="560" y="408.8" width="8" height="8" fill="#000"/>
<path d="M351.5 302.5L355.8 311.1L347.2 311.1Z" fill="#000"/>
<path d="M386.9 392L391.2 400.6L382.6 400.6Z" fill="#000"/>
<path d="M422.2 406.1L426.5 414.7L417.9 414.7Z" fill="#000"/>
<path d="M457.8 409.9L462.1 418.5L453.5 418.5Z" fill="#000"/>
<path d="M493.2 409.9L497.5 418.5L488.9 418.5Z" fill="#000"/>
<path d="M528.5 409.7L532.8 418.3L524.2 418.3Z" fill="#000"/>
<path d="M564 409.7L568.3 418.3L559.7 418.3Z" fill="#000"/>
<text class="t" x="155.32" y="27.4" textLength="12.54" lengthAdjust="spacingAndGlyphs">A.</text>
<text class="t" x="172.03" y="27.4" textLength="66.3" lengthAdjust="spacingAndGlyphs">Methanol</text>
<text class="t" x="412.3" y="26.6" textLength="12.12" lengthAdjust="spacingAndGlyphs">B.</text>
<text class="t" x="429.19" y="26.6" textLength="42.54" lengthAdjust="spacingAndGlyphs">DMSO</text>
<text class="t" x="155.7" y="255.6" textLength="12.71" lengthAdjust="spacingAndGlyphs">C.</text>
<text class="t" x="173.53" y="255.6" textLength="33.15" lengthAdjust="spacingAndGlyphs">DMA</text>
<text class="t" x="408.79" y="256.6" textLength="14.15" lengthAdjust="spacingAndGlyphs">D.</text>
<text class="t" x="424.6" y="256.6" textLength="54.65" lengthAdjust="spacingAndGlyphs">Glycerol</text>
<text class="t" transform="translate(26.4,0) rotate(-90)" x="-144.11" y="0" textLength="75.91" lengthAdjust="spacingAndGlyphs">Motility (%)</text>
<text class="t" transform="translate(26.4,0) rotate(-90)" x="-364.7" y="0" textLength="75.29" lengthAdjust="spacingAndGlyphs">Motility (%)</text>
<text class="t" x="243.6" y="474.4" textLength="147.03" lengthAdjust="spacingAndGlyphs">Incubation time (min)</text>
<ellipse cx="598.6" cy="242.3" rx="1.3" ry="1.1" fill="#ececec"/>
</svg>
</body></html>
